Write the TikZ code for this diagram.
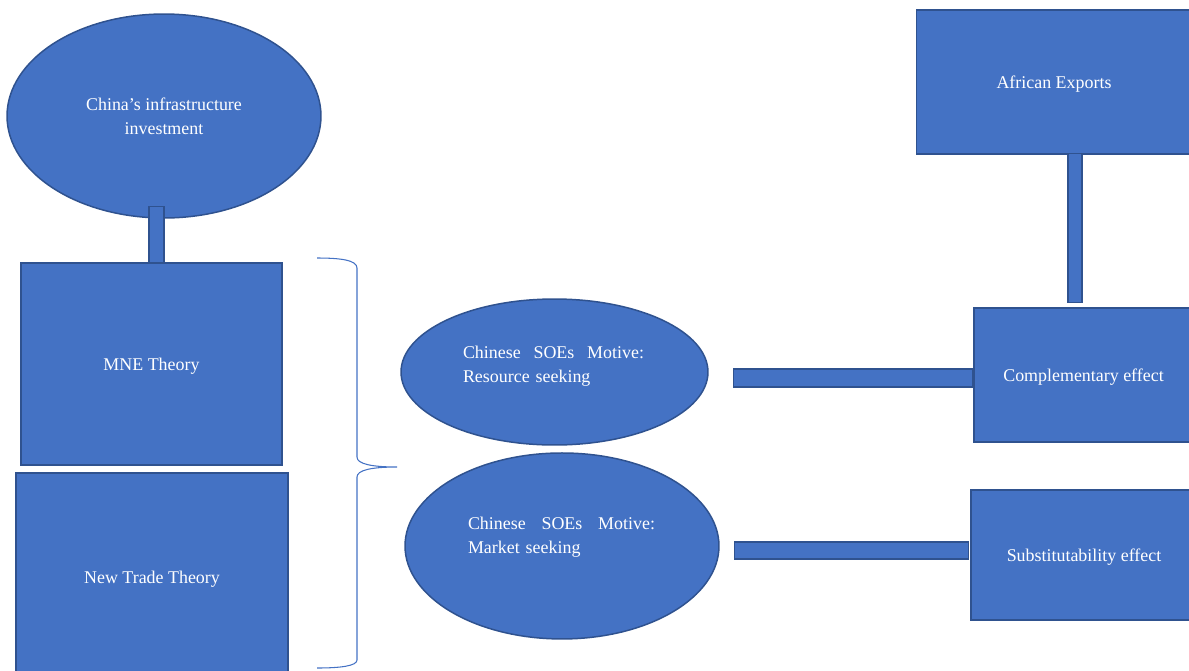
\documentclass[tikz,border=0pt]{standalone}
\usepackage{fontspec}
\setmainfont{Liberation Serif}
\usepackage{tikz}
\usetikzlibrary{shapes.geometric,calc}
\definecolor{boxblue}{HTML}{4472C4}
\definecolor{boxedge}{HTML}{2F528F}

\begin{document}
\begin{tikzpicture}[x=0.02cm, y=-0.02cm,
        blok/.style={draw=boxedge, fill=boxblue, line width=0.85pt, text=white,
            font=\fontsize{10.2}{13.9}\selectfont, inner sep=0pt, align=center, text depth=0pt},
        oval/.style={blok, ellipse},
        box/.style={blok, rectangle},
        bar/.style={draw=boxedge, fill=boxblue, line width=0.85pt},
        motive/.style={text=white, font=\fontsize{10.2}{13.9}\selectfont, align=left, inner sep=0pt}]

        \useasboundingbox (0,0) rectangle (1189,670);
        \clip (0,0) rectangle (1189,670);

        % Investment oval
        \node[oval, minimum width=6.28cm, minimum height=4.08cm] (inv) at (164,116) {China’s infrastructure\\investment};

        % Theories
        \node[box, minimum width=5.22cm, minimum height=4.04cm] (mne) at (151.5,364) {MNE Theory};
        \node[box, below of=mne, node distance=4.26cm, xshift=0.01cm, minimum width=5.44cm, minimum height=4.16cm] (ntt) {New Trade Theory};

        % Motives
        \node[oval, minimum width=6.14cm, minimum height=2.92cm] (res) at (554.5,372) {};
        \node[motive, text width=3.62cm] (resT) at ($(res.center)+(-1,-6)$) {Chinese\hfill SOEs\hfill Motive:\\Resource seeking};
        \node[oval, below of=res, node distance=3.48cm, xshift=0.15cm, minimum width=6.28cm, minimum height=3.72cm] (mkt) {};
        \node[motive, text width=3.74cm] (mktT) at ($(mkt.center)+(-0.5,-9)$) {Chinese\hfill SOEs\hfill Motive:\\Market seeking};

        % Exports and effects
        \node[box, minimum width=5.5cm, minimum height=2.88cm] (afr) at (1054,82) {African Exports};
        \node[box, minimum width=4.38cm, minimum height=2.68cm] (comp) at (1083.5,375) {Complementary effect};
        \node[box, below of=comp, node distance=3.6cm, xshift=0.01cm, minimum width=4.52cm, minimum height=2.6cm] (subst) {Substitutability effect};

        % Bars
        \draw[bar] ($(inv.south)+(-15,-12)$) rectangle (inv.south |- mne.north);
        \draw[bar] ($(afr.south)+(14,-1)$) rectangle ($(comp.north)+(-1.5,-5)$);
        \draw[bar] ($(res.east)+(25,-3)$) rectangle ($(comp.west)+(-1,12)$);
        \draw[bar] ($(mkt.east)+(15,-4)$) rectangle ($(subst.west)+(-2,4)$);

        % Brace
        \coordinate (btop) at (317,258);
        \coordinate (btip) at (397,467);
        \coordinate (bbot) at (317,668);
        \draw[boxblue, line width=0.6pt] (btop) .. controls (340,258) and (357,260) .. (357,268)
            -- (357,457) .. controls (357,464) and (372,467) .. (btip)
            .. controls (372,467) and (357,470) .. (357,477)
            -- (357,660) .. controls (357,666) and (340,668) .. (bbot);

        \end{tikzpicture}
\end{document}
